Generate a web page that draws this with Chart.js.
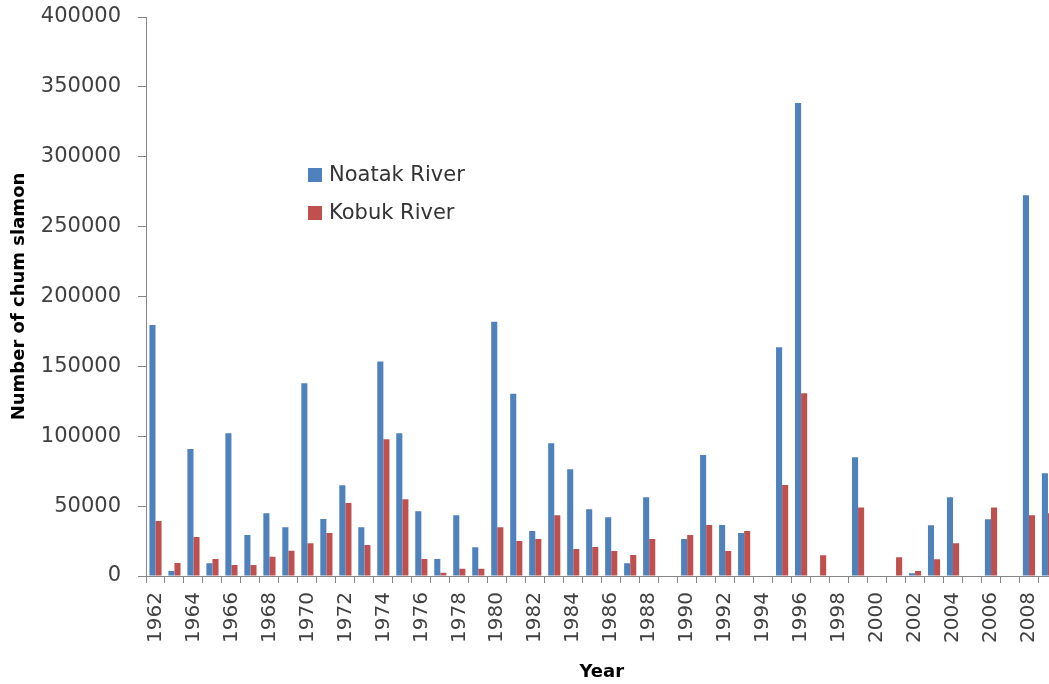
<!DOCTYPE html>
<html>
<head>
<meta charset="utf-8">
<script src="https://cdn.jsdelivr.net/npm/chart.js@4/dist/chart.umd.min.js"></script>
<style>
html,body{margin:0;padding:0;background:#fff;overflow:hidden;width:1049px;height:684px;}
#wrap{position:relative;width:1081px;height:684px;}
</style>
</head>
<body>
<div id="wrap"><canvas id="c" width="1081" height="684"></canvas></div>
<script>
const years = ['1962','1963','1964','1965','1966','1967','1968','1969','1970','1971',
  '1972','1973','1974','1975','1976','1977','1978','1979','1980','1981',
  '1982','1983','1984','1985','1986','1987','1988','1989','1990','1991',
  '1992','1993','1994','1995','1996','1997','1998','1999','2000','2001',
  '2002','2003','2004','2005','2006','2007','2008','2009'];

const noatak = [179600, 3600, 90900, 9100, 102100, 29300, 44900, 34800, 137900, 40800,
  64900, 34800, 153400, 102100, 46300, 12200, 43400, 20500, 182000, 130500,
  32200, 95000, 76300, 47700, 42000, 9100, 56300, null, 26500, 86600,
  36500, 30800, null, 163600, 338500, null, null, 85000, null, null,
  1900, 36300, 56300, null, 40600, null, 272400, 73500];

const kobuk = [39400, 9300, 27900, 12200, 7900, 7900, 13800, 18100, 23400, 30800,
  52200, 22200, 97800, 54900, 12200, 2400, 5200, 5200, 34800, 25000,
  26500, 43400, 19300, 20800, 17900, 15000, 26500, null, 29300, 36500,
  17900, 32200, null, 65100, 130800, 14800, null, 49100, null, 13400,
  3500, 11900, 23400, null, 49100, null, 43400, 44900];

const seriesNames = ['Noatak River', 'Kobuk River'];
const yMin = 0, yMax = 400000, yStep = 50000;
const yTitle = 'Number of chum slamon';
const xTitle = 'Year';

const BLUE = '#4F81BD', RED = '#C0504D', AXIS = '#868686', TXT = '#404040';

Chart.defaults.font.family = '"DejaVu Sans", Verdana, sans-serif';

const insideLegend = {
  id: 'insideLegend',
  afterDraw(chart) {
    const ctx = chart.ctx;
    chart.data.datasets.forEach((ds, i) => {
      const y = 175 + i * 38;
      ctx.save();
      ctx.fillStyle = ds.backgroundColor;
      ctx.fillRect(308, y - 7, 14, 14);
      ctx.fillStyle = '#333333';
      ctx.font = '21px "DejaVu Sans", Verdana, sans-serif';
      ctx.textBaseline = 'middle';
      ctx.textAlign = 'left';
      ctx.fillText(ds.label, 329, y + 1);
      ctx.restore();
    });
  }
};

new Chart(document.getElementById('c'), {
  type: 'bar',
  data: {
    labels: years,
    datasets: [
      { label: seriesNames[0], data: noatak, backgroundColor: BLUE, borderWidth: 0,
        categoryPercentage: 0.64, barPercentage: 1.0 },
      { label: seriesNames[1], data: kobuk, backgroundColor: RED, borderWidth: 0,
        categoryPercentage: 0.64, barPercentage: 1.0 }
    ]
  },
  options: {
    responsive: false,
    animation: false,
    layout: { padding: { top: 17, right: 4, left: 0, bottom: 0 } },
    plugins: {
      legend: { display: false },
      tooltip: { enabled: false }
    },
    scales: {
      x: {
        offset: true,
        grid: { display: true, drawOnChartArea: false, drawTicks: true, tickLength: 7, color: AXIS, offset: true },
        border: { display: true, color: AXIS, width: 1 },
        ticks: {
          autoSkip: false, maxRotation: 90, minRotation: 90, padding: 9,
          color: TXT, font: { size: 20 },
          callback: function(v, i) { return i % 2 === 0 ? years[i] : ''; }
        },
        title: { display: true, text: xTitle, color: '#000', font: { size: 18, weight: 'bold' },
          padding: { top: 0, bottom: 1 } },
        afterFit(scale) { scale.height = 108; }
      },
      y: {
        min: yMin, max: yMax,
        grid: { display: true, drawOnChartArea: false, drawTicks: true, tickLength: 8, color: AXIS },
        border: { display: true, color: AXIS, width: 1 },
        ticks: { stepSize: yStep, padding: 17, color: TXT, font: { size: 21 },
          callback: v => String(v) },
        title: { display: true, text: yTitle, color: '#000', font: { size: 18, weight: 'bold' },
          padding: { top: 9, bottom: 0 } },
        afterFit(scale) { scale.width = 146; scale.paddingTop = 0; scale.paddingBottom = 0; }
      }
    }
  },
  plugins: [insideLegend]
});
</script>
</body>
</html>
